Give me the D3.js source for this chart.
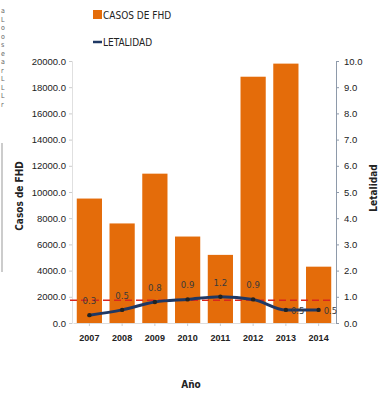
<!DOCTYPE html>
<html>
<head>
<meta charset="utf-8">
<script src="https://cdn.jsdelivr.net/npm/d3@7"></script>
<style>
  body { margin: 0; background: #fff; }
  svg { display: block; font-family: "Liberation Sans Narrow", "DejaVu Sans Condensed", "Liberation Sans", sans-serif; }
</style>
</head>
<body>
<div id="chart"></div>
<script>
// data
var years = ['2007', '2008', '2009', '2010', '2011', '2012', '2013', '2014'];
var casos = [9500, 7600, 11400, 6600, 5200, 18800, 19800, 4300];
var letalidad = [0.3, 0.5, 0.8, 0.9, 1.0, 0.9, 0.5, 0.5];
var letalidadLabels = ['0.3', '0.5', '0.8', '0.9', '1.2', '0.9', '0.5', '0.5'];
var leftTicks = [0, 2000, 4000, 6000, 8000, 10000, 12000, 14000, 16000, 18000, 20000];
var rightTicks = [0, 1, 2, 3, 4, 5, 6, 7, 8, 9, 10];
var referencia = 0.87; // red dashed line, on the right axis

var width = 381, height = 393;
var orange = '#e46c0a', navy = '#1f3864';

var svg = d3.select('#chart').append('svg')
  .attr('width', width)
  .attr('height', height);

var x = d3.scaleBand()
  .domain(years)
  .range([73, 335])
  .paddingInner(0.23)
  .paddingOuter(0.115);

var yL = d3.scaleLinear().domain([0, 20000]).range([323, 61]);
var yR = d3.scaleLinear().domain([0, 10]).range([323, 61]);

// stray bit of the neighbouring figure on the left edge
svg.append('line')
  .attr('x1', 2).attr('x2', 2).attr('y1', 143).attr('y2', 272)
  .attr('stroke', '#999').attr('stroke-width', 1);
svg.append('g').selectAll('text')
  .data(['a', 'L', 'o', 'o', 's', 'e', 'a', 'r', 'L', 'L', 'L', 'r'])
  .enter().append('text')
  .attr('x', 1)
  .attr('y', function(d, i) { return 13 + i * 8.5; })
  .attr('font-size', 7)
  .attr('fill', '#666')
  .text(function(d) { return d; });

// left axis
var axL = svg.append('g')
  .attr('transform', 'translate(72,0)')
  .call(d3.axisLeft(yL).tickValues(leftTicks).tickFormat(d3.format('.1f')).tickSize(3));
axL.select('.domain').attr('stroke', '#e0e0e0');
axL.selectAll('.tick line').attr('stroke', '#ccc');
axL.selectAll('.tick text')
  .attr('font-size', 9.5)
  .attr('fill', '#222')
  .attr('x', -6)
  .attr('font-family', 'inherit');

// right axis
var axR = svg.append('g')
  .attr('transform', 'translate(336,0)')
  .call(d3.axisRight(yR).tickValues(rightTicks).tickFormat(d3.format('.1f')).tickSize(3));
axR.select('.domain').attr('stroke', '#8e9aaa');
axR.selectAll('.tick line').attr('stroke', '#8e9aaa');
axR.selectAll('.tick text')
  .attr('font-size', 9.5)
  .attr('fill', '#222')
  .attr('x', 8)
  .attr('font-family', 'inherit');

// bottom axis
var axB = svg.append('g')
  .attr('transform', 'translate(0,323)')
  .call(d3.axisBottom(x).tickSize(3).tickSizeOuter(0));
axB.select('.domain').attr('stroke', '#ddd');
axB.selectAll('.tick line').attr('stroke', '#ccc');
axB.selectAll('.tick text')
  .attr('font-size', 9)
  .attr('font-weight', 'bold')
  .attr('fill', '#222')
  .attr('dy', '1.35em')
  .attr('font-family', 'inherit');

// bars
svg.append('g').selectAll('rect')
  .data(casos)
  .enter().append('rect')
  .attr('x', function(d, i) { return x(years[i]); })
  .attr('y', function(d) { return yL(d); })
  .attr('width', x.bandwidth())
  .attr('height', function(d) { return yL(0) - yL(d); })
  .attr('fill', orange);

// reference line
svg.append('line')
  .attr('x1', 70).attr('x2', 333)
  .attr('y1', yR(referencia)).attr('y2', yR(referencia))
  .attr('stroke', '#d9261c')
  .attr('stroke-width', 1.5)
  .attr('stroke-dasharray', '7,4');

// letalidad line
var line = d3.line()
  .x(function(d, i) { return x(years[i]) + x.bandwidth() / 2; })
  .y(function(d) { return yR(d); })
  .curve(d3.curveMonotoneX);

svg.append('path')
  .datum(letalidad)
  .attr('d', line)
  .attr('fill', 'none')
  .attr('stroke', navy)
  .attr('stroke-width', 3);

svg.append('g').selectAll('circle')
  .data(letalidad)
  .enter().append('circle')
  .attr('cx', function(d, i) { return x(years[i]) + x.bandwidth() / 2; })
  .attr('cy', function(d) { return yR(d); })
  .attr('r', 2.2)
  .attr('fill', '#222');

// data labels: above the point, the last two to the right
svg.append('g').selectAll('text')
  .data(letalidad)
  .enter().append('text')
  .attr('x', function(d, i) {
    var cx = x(years[i]) + x.bandwidth() / 2;
    return i >= 6 ? cx + 5 : cx;
  })
  .attr('y', function(d, i) { return i >= 6 ? yR(d) + 4 : yR(d) - 11; })
  .attr('text-anchor', function(d, i) { return i >= 6 ? 'start' : 'middle'; })
  .attr('font-size', 9.5)
  .attr('fill', '#3a3a3a')
  .text(function(d, i) { return letalidadLabels[i]; });

// axis titles
svg.append('text')
  .attr('transform', 'translate(23,196) rotate(-90)')
  .attr('text-anchor', 'middle')
  .attr('font-size', 10)
  .attr('font-weight', 'bold')
  .attr('fill', '#222')
  .text('Casos de FHD');

svg.append('text')
  .attr('transform', 'translate(377,188) rotate(-90)')
  .attr('text-anchor', 'middle')
  .attr('font-size', 10)
  .attr('font-weight', 'bold')
  .attr('fill', '#222')
  .text('Letalidad');

svg.append('text')
  .attr('x', 191).attr('y', 388)
  .attr('text-anchor', 'middle')
  .attr('font-size', 10)
  .attr('font-weight', 'bold')
  .attr('fill', '#222')
  .text('Año');

// legend
var legend = svg.append('g').attr('transform', 'translate(93,0)');
legend.append('rect')
  .attr('x', 0).attr('y', 10).attr('width', 9).attr('height', 9)
  .attr('fill', orange);
legend.append('text')
  .attr('x', 10).attr('y', 19)
  .attr('font-size', 10)
  .attr('fill', '#222')
  .text('CASOS DE FHD');
legend.append('line')
  .attr('x1', 0).attr('x2', 9).attr('y1', 42).attr('y2', 42)
  .attr('stroke', navy).attr('stroke-width', 2.5);
legend.append('text')
  .attr('x', 10).attr('y', 46)
  .attr('font-size', 10)
  .attr('fill', '#222')
  .text('LETALIDAD');
</script>
</body>
</html>
